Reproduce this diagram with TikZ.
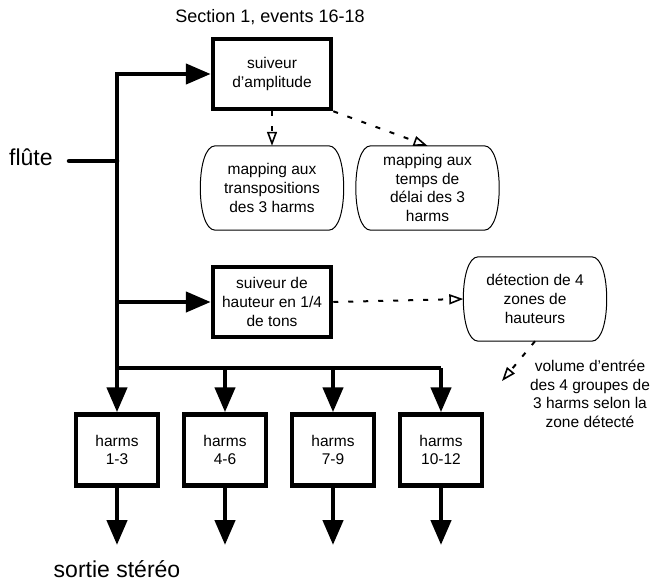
\documentclass[tikz,border=0pt]{standalone}
\usepackage{fontspec}
\setmainfont{Liberation Sans}
\usetikzlibrary{arrows.meta,calc}
\newcommand\diagfont{\fontsize{15.5}{18.8}\selectfont}
\newcommand\bigfont{\fontsize{23}{28}\selectfont}
\newcommand\capsule[1]{%
  \draw[capline] ($(#1.north west)+(15,0)$) -- ($(#1.north east)+(-15,0)$)
    .. controls ($(#1.north east)+(-5,0)$) and ($(#1.east)+(0,-22)$) .. (#1.east)
    .. controls ($(#1.east)+(0,22)$) and ($(#1.south east)+(-5,0)$) .. ($(#1.south east)+(-15,0)$)
    -- ($(#1.south west)+(15,0)$)
    .. controls ($(#1.south west)+(5,0)$) and ($(#1.west)+(0,22)$) .. (#1.west)
    .. controls ($(#1.west)+(0,-22)$) and ($(#1.north west)+(5,0)$) .. cycle;}
\begin{document}
\begin{tikzpicture}[x=1pt,y=-1pt,
  wire/.style={line width=4.5pt},
  bigtip/.style={-{Triangle[length=25pt,width=20pt]}},
  procbox/.style={draw, line width=4.5pt, minimum width=118pt, minimum height=70pt, align=center, font=\diagfont, inner sep=0pt},
  harmbox/.style={draw, line width=4.5pt, minimum width=82pt, minimum height=71pt, align=center, font=\diagfont, inner sep=0pt},
  mapbox/.style={rectangle, minimum width=143pt, minimum height=84pt, align=center, font=\diagfont, inner sep=0pt},
  capline/.style={line width=1pt, line join=round},
  dotarrow/.style={line width=2pt, dash pattern=on 5pt off 10pt, -{Triangle[open,length=14pt,width=10pt,line width=1.6pt]}},
  label/.style={align=center, inner sep=0pt},
]
\useasboundingbox (0,0) rectangle (652,581);

% title and labels
\node[label, font=\fontsize{18}{22}\selectfont] (title) at (270,17) {Section 1, events 16-18};
\node[label, font=\bigfont, anchor=west] (flute) at (9,157) {flûte};
\node[label, font=\bigfont] (sortie) at (117,569) {sortie stéréo};

% processing boxes
\node[procbox] (A) at (272,74) {suiveur\\d'amplitude};
\node[procbox] (B) at (272,302) {suiveur de\\hauteur en 1/4\\de tons};

% mapping boxes
\node[mapbox] (M1) at (272,188) {mapping aux\\transpositions\\des 3 harms};
\node[mapbox, font=\fontsize{15.5}{18.5}\selectfont] (M2) at (427.5,188) {mapping aux\\temps de\\délai des 3\\harms};
\node[mapbox] (D) at (535,299) {détection de 4\\zones de\\hauteurs};
\capsule{M1}
\capsule{M2}
\capsule{D}

% volume text
\node[label, font=\fontsize{15.5}{18.5}\selectfont] (vol) at (590,394) {volume d'entrée\\des 4 groupes de\\3 harms selon la\\zone détecté};

% harms boxes
\node[harmbox] (h1) at (117,450) {harms\\1-3};
\node[harmbox] (h2) at (225,450) {harms\\4-6};
\node[harmbox] (h3) at (333,450) {harms\\7-9};
\node[harmbox] (h4) at (441,450) {harms\\10-12};

% junction coordinates
\coordinate (fs) at (69,161);
\coordinate (jF) at (117,161);
\coordinate (jA) at (117,74);
\coordinate (jB) at (117,302);
\coordinate (c1) at (117,368);
\coordinate (c2) at (225,368);
\coordinate (c3) at (333,368);
\coordinate (c4) at (441,368);
\coordinate (o1) at (117,545);
\coordinate (o2) at (225,545);
\coordinate (o3) at (333,545);
\coordinate (o4) at (441,545);
\coordinate (vend) at (502,381);

% trunk
\draw[wire, {Triangle[length=25pt,width=20pt]}-] (A.west) -- (jA) -- (c1) -- (c4);
\draw[wire, line cap=round] (fs) -- (jF);
\draw[wire, bigtip] (jB) -- (B.west);
\draw[wire, bigtip] (c1) -- (h1.north);
\draw[wire, bigtip] (c2) -- (h2.north);
\draw[wire, bigtip] (c3) -- (h3.north);
\draw[wire, bigtip] (c4) -- (h4.north);
\draw[wire, bigtip] (h1.south) -- (o1);
\draw[wire, bigtip] (h2.south) -- (o2);
\draw[wire, bigtip] (h3.south) -- (o3);
\draw[wire, bigtip] (h4.south) -- (o4);

% dotted control arrows
\draw[dotarrow] (A.south) -- (M1.north);
\draw[dotarrow] (A.south east) -- (M2.north);
\draw[dotarrow] (B.east) -- (D.west);
\draw[dotarrow] (D.south) -- (vend);
\end{tikzpicture}
\end{document}
